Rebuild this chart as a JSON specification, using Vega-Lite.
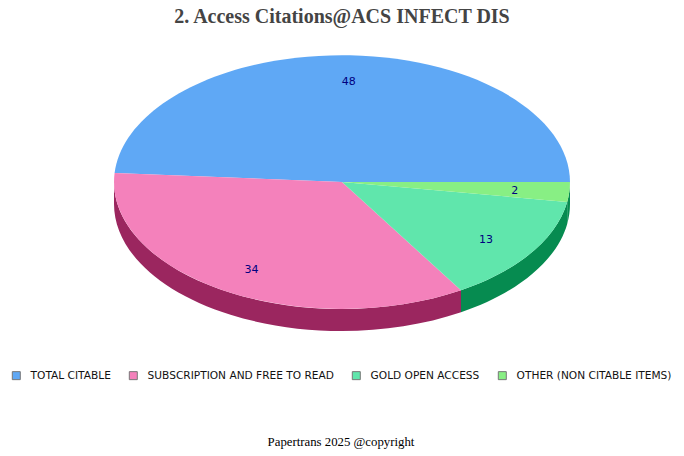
{
  "$schema": "https://vega.github.io/schema/vega-lite/v6.json",
  "width": 684,
  "height": 456,
  "padding": 0,
  "autosize": {"type": "none"},
  "background": "white",
  "view": {"stroke": null},
  "title": {
    "text": "2. Access Citations@ACS INFECT DIS",
    "anchor": "middle",
    "orient": "top",
    "offset": -27,
    "font": "Liberation Serif",
    "fontSize": 20,
    "fontWeight": "bold",
    "color": "#444444"
  },
  "data": {
    "values": [
      {"category": "TOTAL CITABLE", "value": 48.75},
      {"category": "SUBSCRIPTION AND FREE TO READ", "value": 34.99},
      {"category": "GOLD OPEN ACCESS", "value": 13.76},
      {"category": "OTHER (NON CITABLE ITEMS)", "value": 2.5}
    ]
  },
  "layer": [
    {
      "transform": [{"filter": "datum.category != 'TOTAL CITABLE'"}],
      "mark": {"type": "point", "filled": true, "size": 4, "opacity": 1},
      "encoding": {
        "x": {"datum": 0, "type": "quantitative", "scale": {"domain": [-342, 342]}, "axis": null},
        "y": {"datum": 0, "type": "quantitative", "scale": {"domain": [-274, 182]}, "axis": null},
        "fill": {
          "field": "category",
          "type": "nominal",
          "legend": null,
          "scale": {
            "domain": ["SUBSCRIPTION AND FREE TO READ", "GOLD OPEN ACCESS", "OTHER (NON CITABLE ITEMS)"],
            "range": ["#9b265f", "#068b50", "#068b50"]
          }
        },
        "shape": {
          "field": "category",
          "type": "nominal",
          "legend": null,
          "scale": {
            "domain": ["SUBSCRIPTION AND FREE TO READ", "GOLD OPEN ACCESS", "OTHER (NON CITABLE ITEMS)"],
            "range": [
              "M-228,0 A228,127 0 0,0 119,108.3 L119,130.3 A228,127 0 0,1 -228,22 Z",
              "M119,108.3 A228,127 0 0,0 225.2,19.9 L225.2,41.9 A228,127 0 0,1 119,130.3 Z",
              "M225.2,19.9 A228,127 0 0,0 228,0 L228,22 A228,127 0 0,1 225.2,41.9 Z"
            ]
          }
        }
      }
    },
    {
      "mark": {"type": "point", "filled": true, "size": 4, "opacity": 1},
      "encoding": {
        "x": {"datum": 0, "type": "quantitative", "scale": {"domain": [-342, 342]}, "axis": null},
        "y": {"datum": 0, "type": "quantitative", "scale": {"domain": [-274, 182]}, "axis": null},
        "color": {
          "field": "category",
          "type": "nominal",
          "sort": null,
          "scale": {
            "domain": ["TOTAL CITABLE", "SUBSCRIPTION AND FREE TO READ", "GOLD OPEN ACCESS", "OTHER (NON CITABLE ITEMS)"],
            "range": ["#5fa8f5", "#f481bb", "#60e6ac", "#88ef84"]
          },
          "legend": {
            "orient": "none",
            "legendX": 11,
            "legendY": 370,
            "direction": "horizontal",
            "columns": 4,
            "title": null,
            "symbolType": "square",
            "symbolSize": 64,
            "symbolStrokeColor": "#777777",
            "symbolStrokeWidth": 1,
            "symbolOpacity": 1,
            "labelFont": "DejaVu Sans",
            "labelFontSize": 10.6,
            "labelColor": "#111111",
            "labelOffset": 9,
            "columnPadding": 16,
            "gridAlign": "each",
            "labelLimit": 300
          }
        },
        "shape": {
          "field": "category",
          "type": "nominal",
          "legend": null,
          "scale": {
            "domain": ["TOTAL CITABLE", "SUBSCRIPTION AND FREE TO READ", "GOLD OPEN ACCESS", "OTHER (NON CITABLE ITEMS)"],
            "range": [
              "M0,0 L228,0 A228,127 0 0,0 -227.4,-9 Z",
              "M0,0 L-227.4,-9 A228,127 0 0,0 119,108.3 Z",
              "M0,0 L119,108.3 A228,127 0 0,0 225.2,19.9 Z",
              "M0,0 L225.2,19.9 A228,127 0 0,0 228,0 Z"
            ]
          }
        }
      }
    },
    {
      "transform": [
        {"joinaggregate": [{"op": "sum", "field": "value", "as": "total"}]},
        {"window": [{"op": "sum", "field": "value", "as": "cum"}]},
        {"calculate": "2 * PI * (datum.cum - datum.value / 2) / datum.total", "as": "mid"},
        {"calculate": "228 * 0.76 * cos(datum.mid)", "as": "lx"},
        {"calculate": "127 * 0.8 * sin(datum.mid)", "as": "ly"},
        {"calculate": "floor(datum.value)", "as": "label"}
      ],
      "mark": {"type": "text", "font": "DejaVu Sans", "fontSize": 11, "color": "#000080", "align": "center", "baseline": "middle", "dy": 1.5},
      "encoding": {
        "x": {"field": "lx", "type": "quantitative", "scale": {"domain": [-342, 342]}, "axis": null},
        "y": {"field": "ly", "type": "quantitative", "scale": {"domain": [-274, 182]}, "axis": null},
        "text": {"field": "label", "type": "nominal"}
      }
    },
    {
      "data": {"values": [{"note": "Papertrans 2025 @copyright"}]},
      "mark": {"type": "text", "font": "Liberation Serif", "fontSize": 12.8, "color": "#000000", "align": "center", "baseline": "middle"},
      "encoding": {
        "x": {"datum": -1, "type": "quantitative", "scale": {"domain": [-342, 342]}, "axis": null},
        "y": {"datum": -260, "type": "quantitative", "scale": {"domain": [-274, 182]}, "axis": null},
        "text": {"field": "note", "type": "nominal"}
      }
    }
  ],
  "resolve": {"scale": {"shape": "independent"}}
}
